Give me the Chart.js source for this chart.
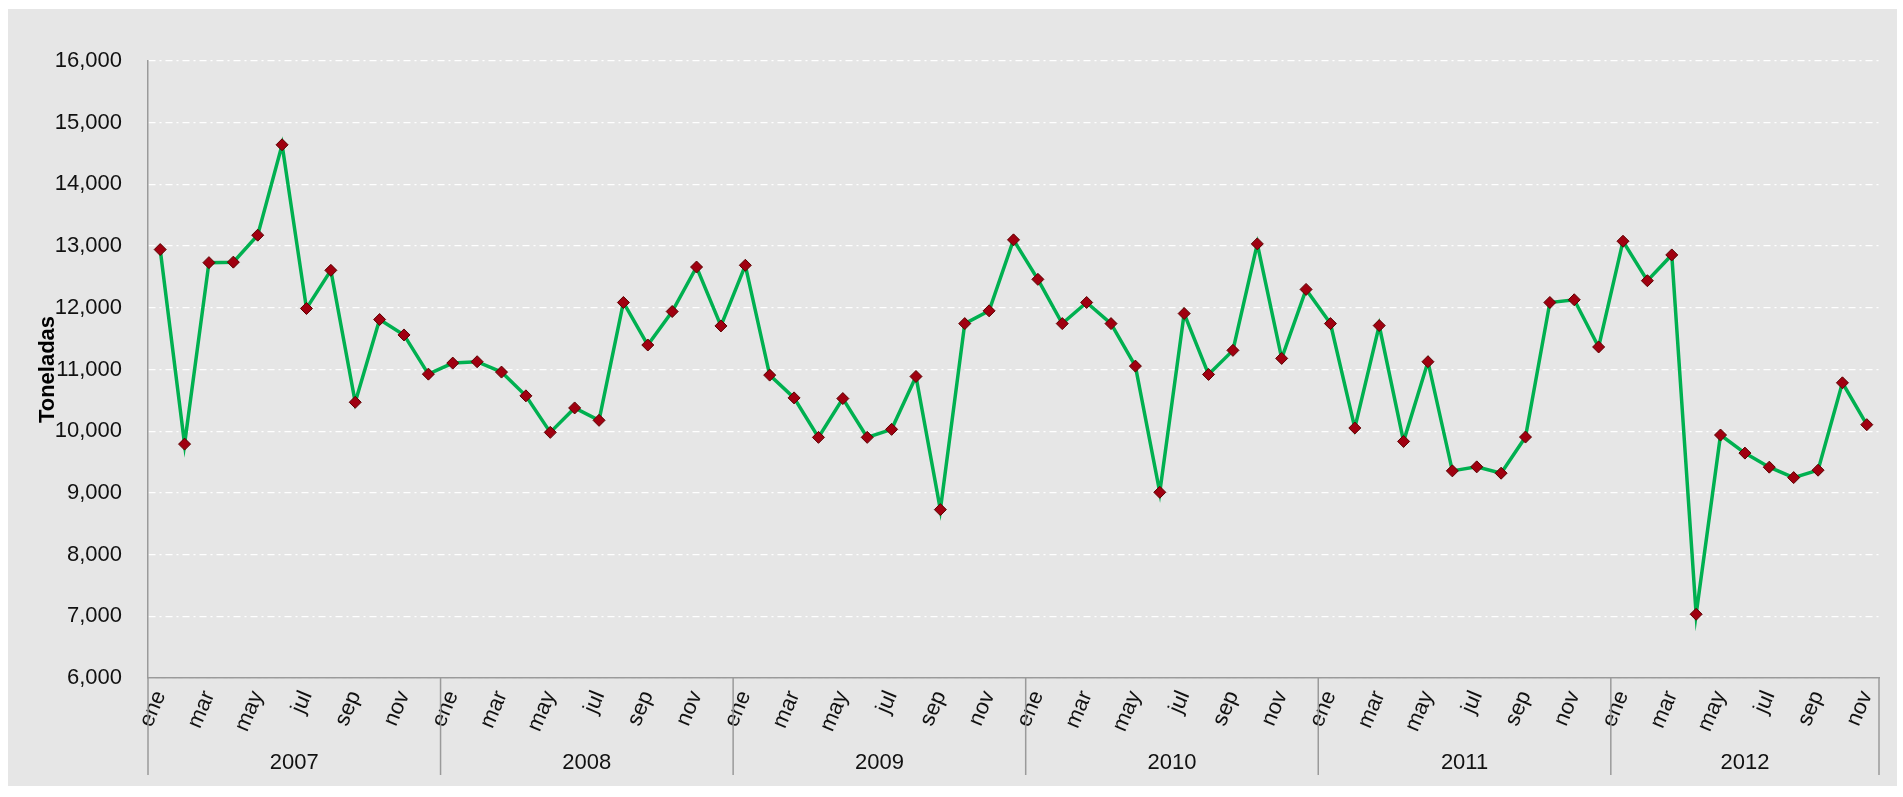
<!DOCTYPE html>
<html>
<head>
<meta charset="utf-8">
<script src="https://cdn.jsdelivr.net/npm/chart.js@4"></script>
<style>
  html, body { margin: 0; padding: 0; background: #fff; }
  canvas { display: block; }
</style>
</head>
<body>
<canvas id="chart" width="1903" height="797"></canvas>
<script>
const years = ["2007", "2008", "2009", "2010", "2011", "2012"];
const months = ["ene","feb","mar","abr","may","jun","jul","ago","sep","oct","nov","dic"];

// toneladas por mes (ene 2007 - nov 2012)
const v2007 = [12944, 9791, 12732, 12740, 13177, 14642, 11989, 12607, 10469, 11810, 11560, 10925];
const v2008 = [11104, 11126, 10958, 10573, 9981, 10377, 10176, 12086, 11397, 11940, 12661, 11706];
const v2009 = [12689, 10909, 10540, 9900, 10529, 9900, 10030, 10887, 8729, 11744, 11951, 13101];
const v2010 = [12461, 11744, 12086, 11744, 11055, 9010, 11907, 10920, 11310, 13036, 11180, 12298];
const v2011 = [11744, 10052, 11712, 9835, 11126, 9357, 9422, 9319, 9905, 12086, 12130, 11365];
const v2012 = [13079, 12439, 12857, 7033, 9938, 9645, 9417, 9248, 9368, 10784, 10106];

const yTicks = [6000, 7000, 8000, 9000, 10000, 11000, 12000, 13000, 14000, 15000, 16000];

const series = [v2007, v2008, v2009, v2010, v2011, v2012];
const values = series.flat();
const labels = [];
series.forEach(arr => {
    arr.forEach((_, m) => labels.push(months[m]));
});

const FONT = "'Liberation Sans Narrow', 'Arial Narrow', 'Liberation Sans', Arial, sans-serif";

// fondo gris del area del grafico
const backgroundPlugin = {
    id: "bg",
    beforeDraw(chart) {
        const ctx = chart.ctx;
        ctx.save();
        ctx.fillStyle = "#ffffff";
        ctx.fillRect(0, 0, chart.width, chart.height);
        ctx.fillStyle = "#e6e6e6";
        ctx.fillRect(8, 9, chart.width - 14, chart.height - 20);
        ctx.restore();
    }
};

// separadores y etiquetas de año bajo el eje x
const yearPlugin = {
    id: "years",
    afterDraw(chart) {
        const ctx = chart.ctx;
        const xs = chart.scales.x;
        const area = chart.chartArea;
        const half = (xs.getPixelForValue(1) - xs.getPixelForValue(0)) / 2;
        ctx.save();
        ctx.strokeStyle = "#9a9a9a";
        ctx.lineWidth = 1.5;
        ctx.fillStyle = "#111";
        ctx.font = "22px " + FONT;
        ctx.textAlign = "center";
        ctx.textBaseline = "middle";
        let start = 0;
        years.forEach((yr, k) => {
            const n = series[k].length;
            const x0 = xs.getPixelForValue(start) - half;
            const x1 = xs.getPixelForValue(start + n - 1) + half;
            ctx.beginPath();
            ctx.moveTo(x0, area.bottom);
            ctx.lineTo(x0, area.bottom + 97);
            ctx.stroke();
            if (k === years.length - 1) {
                ctx.beginPath();
                ctx.moveTo(x1, area.bottom);
                ctx.lineTo(x1, area.bottom + 97);
                ctx.stroke();
            }
            ctx.fillText(yr, (x0 + x1) / 2, area.bottom + 85);
            start += n;
        });
        ctx.restore();
    }
};

const ctx = document.getElementById("chart").getContext("2d");
const chart = new Chart(ctx, {
    type: "line",
    data: {
        labels: labels,
        datasets: [{
            data: values,
            borderColor: "#00b050",
            borderWidth: 3.5,
            tension: 0,
            pointStyle: "rectRot",
            pointRadius: 6,
            pointBackgroundColor: "#a00010",
            pointBorderColor: "#5c0000",
            pointBorderWidth: 1
        }]
    },
    options: {
        responsive: false,
        animation: false,
        devicePixelRatio: 1,
        layout: { padding: { top: 61, right: 24, left: 0, bottom: 0 } },
        plugins: {
            legend: { display: false },
            tooltip: { enabled: false }
        },
        scales: {
            x: {
                offset: true,
                grid: { display: false, drawTicks: false },
                border: { color: "#9a9a9a", width: 1.5 },
                ticks: {
                    autoSkip: false,
                    maxRotation: 67,
                    minRotation: 67,
                    padding: 9,
                    color: "#111",
                    font: { family: FONT, size: 22 },
                    callback: (val, idx) => idx % 2 === 0 ? labels[idx] : ""
                },
                afterFit(scale) { scale.height = 119; }
            },
            y: {
                min: 6000,
                max: 16000,
                afterBuildTicks(scale) {
                    scale.ticks = yTicks.map(v => ({ value: v }));
                },
                grid: { color: "#ffffff", lineWidth: 1.3, drawTicks: false },
                border: { color: "#9a9a9a", width: 1.5, dash: [7, 4, 2, 4] },
                ticks: {
                    padding: 26,
                    color: "#111",
                    font: { family: FONT, size: 22 },
                    callback: v => v.toLocaleString("en-US")
                },
                title: {
                    display: true,
                    text: "Toneladas",
                    color: "#000",
                    font: { family: FONT, size: 22, weight: "bold" },
                    padding: { top: 35, bottom: 0 }
                },
                afterFit(scale) { scale.width = 148; }
            }
        }
    },
    plugins: [backgroundPlugin, yearPlugin]
});
</script>
</body>
</html>
